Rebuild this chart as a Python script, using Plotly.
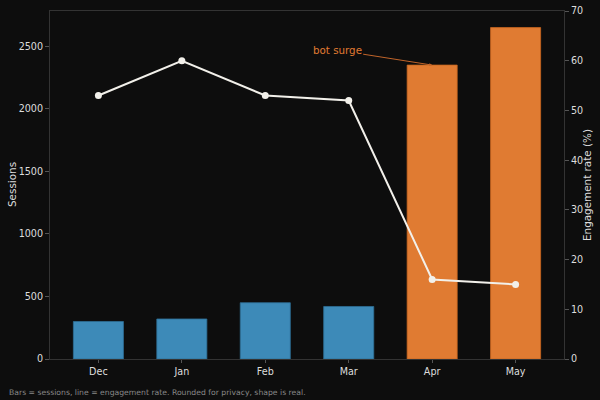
import plotly.graph_objects as go

months = ["Dec", "Jan", "Feb", "Mar", "Apr", "May"]
sessions = [300, 320, 450, 420, 2350, 2650]
engagement = [53, 60, 53, 52, 16, 15]
bar_colors = ["#3d8ab8", "#3d8ab8", "#3d8ab8", "#3d8ab8", "#e07b32", "#e07b32"]
edge_colors = ["#2d6f96"] * 4 + ["#c8661f"] * 2

x_idx = list(range(len(months)))

fig = go.Figure()
fig.add_trace(go.Bar(x=x_idx, y=sessions, width=0.6,
                     marker=dict(color=bar_colors, line=dict(width=0.8, color=edge_colors)),
                     yaxis="y", showlegend=False))
fig.add_trace(go.Scatter(x=x_idx, y=engagement, mode="lines+markers",
                         line=dict(color="#f2f0ea", width=2),
                         marker=dict(size=7, color="#f2f0ea"),
                         yaxis="y2", showlegend=False))

axis_font = dict(family="DejaVu Sans", size=9.6, color="#dddddd")
title_font = dict(family="DejaVu Sans", size=10.4, color="#dddddd")
fig.update_layout(
    width=600, height=400,
    margin=dict(l=50, r=36, t=11, b=41),
    paper_bgcolor="#0d0d0d", plot_bgcolor="#0d0d0d",
    font=dict(family="DejaVu Sans", color="#dddddd"),
    xaxis=dict(range=[-0.58, 5.58], tickvals=x_idx, ticktext=months,
               tickfont=axis_font, showgrid=False, zeroline=False, automargin=False,
               showline=True, linecolor="#333333", mirror=True,
               ticks="outside", ticklen=3, tickcolor="#555555"),
    yaxis=dict(range=[0, 2782.5], tickvals=[0, 500, 1000, 1500, 2000, 2500],
               tickfont=axis_font, showgrid=False, zeroline=False, automargin=False,
               showline=True, linecolor="#333333",
               ticks="outside", ticklen=4, tickcolor="#555555"),
    yaxis2=dict(range=[0, 70], tickvals=[0, 10, 20, 30, 40, 50, 60, 70],
                overlaying="y", side="right", automargin=False,
                tickfont=axis_font, showgrid=False, zeroline=False,
                showline=True, linecolor="#333333",
                ticks="outside", ticklen=4, tickcolor="#555555"),
    annotations=[
        dict(x=4, y=sessions[4], xref="x", yref="y", text="bot surge",
             showarrow=True, arrowhead=2, arrowsize=0.6, arrowwidth=1,
             arrowcolor="#c0642a", ax=-95, ay=-15, xanchor="center",
             font=dict(family="DejaVu Sans", size=10.3, color="#e07b32")),
        dict(x=-43/514, y=-33/348, xref="paper", yref="paper",
             text="Bars = sessions, line = engagement rate. Rounded for privacy, shape is real.",
             showarrow=False, xanchor="left", yanchor="middle",
             font=dict(family="DejaVu Sans", size=7.7, color="#888888")),
        dict(x=-38/514, y=0.5, xref="paper", yref="paper", text="Sessions",
             textangle=-90, showarrow=False, xanchor="center", yanchor="middle",
             font=title_font),
        dict(x=1 + 23/514, y=0.5, xref="paper", yref="paper", text="Engagement rate (%)",
             textangle=-90, showarrow=False, xanchor="center", yanchor="middle",
             font=title_font),
    ],
)

fig.write_html("out.html")
